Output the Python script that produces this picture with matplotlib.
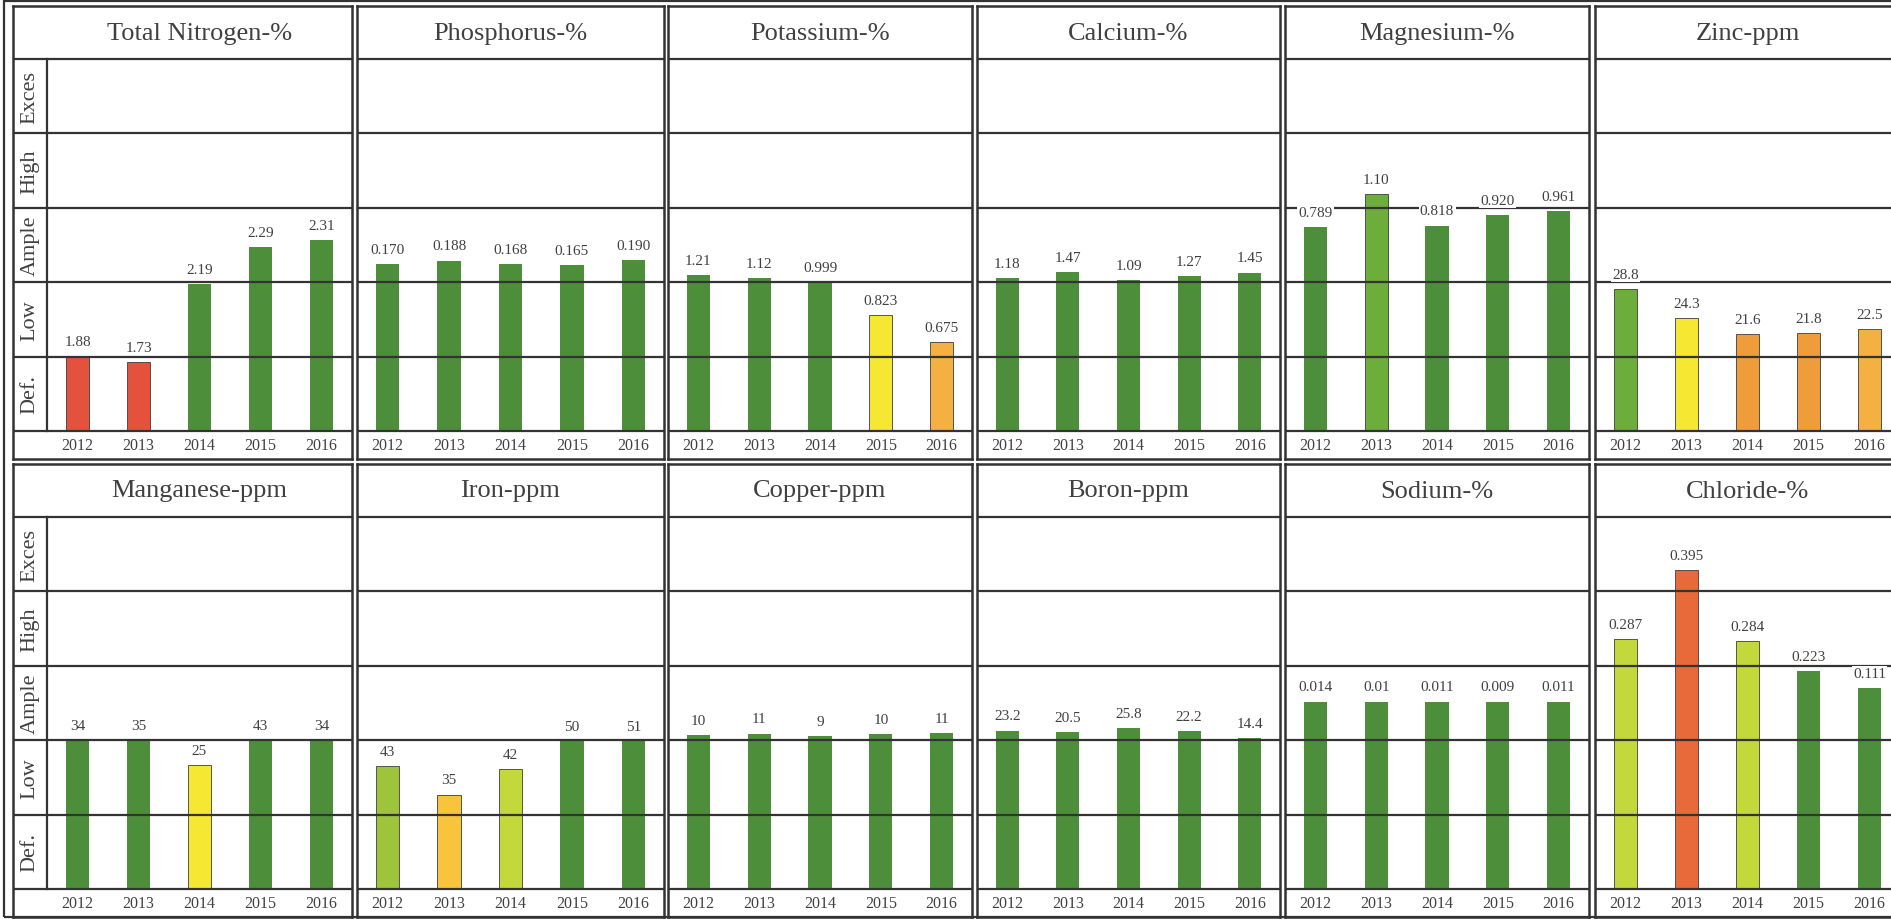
import matplotlib
matplotlib.use("Agg")
import matplotlib.pyplot as plt
from matplotlib.patches import Rectangle

plt.rcParams['font.family'] = ['Liberation Serif', 'DejaVu Serif']

# data
titles = ["Total Nitrogen-%", "Phosphorus-%", "Potassium-%", "Calcium-%", "Magnesium-%", "Zinc-ppm",
          "Manganese-ppm", "Iron-ppm", "Copper-ppm", "Boron-ppm", "Sodium-%", "Chloride-%"]
years = ["2012", "2013", "2014", "2015", "2016"]
bands = ["Def.", "Low", "Ample", "High", "Exces"]

value_labels = [
    ["1.88", "1.73", "2.19", "2.29", "2.31"],
    ["0.170", "0.188", "0.168", "0.165", "0.190"],
    ["1.21", "1.12", "0.999", "0.823", "0.675"],
    ["1.18", "1.47", "1.09", "1.27", "1.45"],
    ["0.789", "1.10", "0.818", "0.920", "0.961"],
    ["28.8", "24.3", "21.6", "21.8", "22.5"],
    ["34", "35", "25", "43", "34"],
    ["43", "35", "42", "50", "51"],
    ["10", "11", "9", "10", "11"],
    ["23.2", "20.5", "25.8", "22.2", "14.4"],
    ["0.014", "0.01", "0.011", "0.009", "0.011"],
    ["0.287", "0.395", "0.284", "0.223", "0.111"],
]

# bar height measured in band units (0 = bottom of Def., 5 = top of Exces)
levels = [
    [1.00, 0.93, 1.98, 2.47, 2.57],
    [2.24, 2.29, 2.24, 2.23, 2.30],
    [2.10, 2.06, 2.00, 1.56, 1.20],
    [2.05, 2.14, 2.03, 2.08, 2.13],
    [2.74, 3.18, 2.76, 2.90, 2.96],
    [1.91, 1.52, 1.30, 1.32, 1.37],
    [2.00, 2.00, 1.66, 2.00, 2.00],
    [1.65, 1.27, 1.61, 1.99, 1.99],
    [2.07, 2.09, 2.06, 2.08, 2.10],
    [2.13, 2.11, 2.16, 2.12, 2.03],
    [2.52, 2.52, 2.52, 2.52, 2.52],
    [3.36, 4.29, 3.33, 2.93, 2.70],
]

bar_codes = [
    "RRGGG", "GGGGG", "GGGYo", "GGGGG", "GLGGG", "LYOOo",
    "GGYGG", "gAyGG", "GGGGG", "GGGGG", "GGGGG", "yryGG",
]

palette = {
    'G': '#4d8e3b', 'L': '#6cad3c', 'Y': '#f6e733', 'O': '#ef9d3a', 'o': '#f4b040',
    'R': '#e4523d', 'r': '#e8693a', 'y': '#c3d93b', 'g': '#9dc43b', 'A': '#f7c43b',
}

W, H = 1891, 920
col_x = [(13, 352), (357, 664), (668, 972), (977, 1280), (1285, 1589), (1595, 1900)]
row_top = [7, 465]
lab_w = 34
title_h = 53
band_h = 74.4
year_h = 28
line_c = '#333333'
text_c = '#404040'

fig = plt.figure(figsize=(W / 100, H / 100), dpi=100, facecolor='white')

for idx in range(12):
    r, c = divmod(idx, 6)
    x0, x1 = col_x[c]
    plot_left = x0 + (lab_w if c == 0 else 0)
    unit = (x1 - plot_left) / 5
    top = row_top[r]
    total_h = title_h + 5 * band_h + year_h
    ax = fig.add_axes([x0 / W, 1 - (top + total_h) / H, (x1 - x0) / W, total_h / H])
    yb = -year_h / band_h
    yt = 5 + title_h / band_h
    xl = -0.5 - (plot_left - x0) / unit
    ax.set_xlim(xl, 4.5)
    ax.set_ylim(yb, yt)
    ax.set_xticks([])
    ax.set_yticks([])
    for s in ax.spines.values():
        s.set_linewidth(1.8)
        s.set_color(line_c)

    cols = [palette[k] for k in bar_codes[idx]]
    edges = ['none' if k == 'G' else '#3d3d3d' for k in bar_codes[idx]]
    ax.bar(range(5), levels[idx], width=0.38, bottom=0, color=cols,
           edgecolor=edges, linewidth=0.6, zorder=2)

    for k in range(6):
        ax.axhline(k, color=line_c, linewidth=1.6, zorder=3)
    if c == 0:
        ax.plot([-0.5, -0.5], [0, 5], color=line_c, linewidth=1.6, zorder=3)
        for k, b in enumerate(bands):
            ax.text((xl - 0.5) / 2, k + 0.5, b, rotation=90, ha='center', va='center',
                    fontsize=16, color=text_c)

    for i in range(5):
        ax.text(i, levels[idx][i] + 0.11, value_labels[idx][i], ha='center', va='bottom',
                fontsize=11, color=text_c, zorder=4,
                bbox=dict(facecolor='white', edgecolor='none', pad=1.0))
        ax.text(i, yb / 2, years[i], ha='center', va='center', fontsize=11.5, color=text_c)

    ax.text(2, 5 + (yt - 5) / 2, titles[idx], ha='center', va='center', fontsize=19, color=text_c)

# outer frame of the scanned page
fig.add_artist(Rectangle((4 / W, 2 / H), 1.2, 916 / H, transform=fig.transFigure,
                         fill=False, edgecolor=line_c, linewidth=1.6))

fig.savefig("out.png", dpi=100, facecolor='white')
